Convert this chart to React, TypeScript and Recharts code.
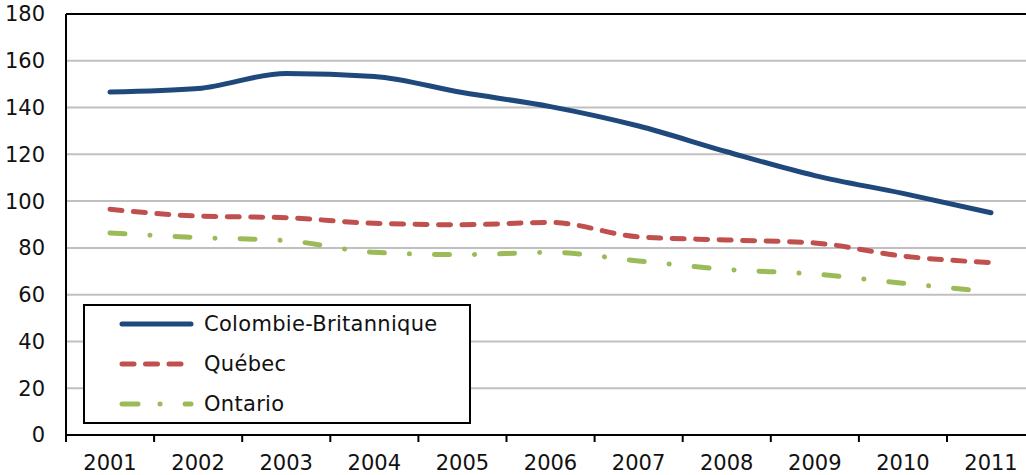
import React from "react";
import { LineChart, Line, XAxis, YAxis, CartesianGrid, ReferenceLine } from "recharts";

const years = ["2001", "2002", "2003", "2004", "2005", "2006", "2007", "2008", "2009", "2010", "2011"];
const colombieBritannique = [146.6, 148.1, 154.6, 153.3, 146.4, 140.4, 132.1, 121.1, 110.9, 103.3, 95.0];
const quebec = [96.5, 93.6, 92.9, 90.5, 89.9, 90.9, 84.7, 83.4, 82.1, 76.5, 73.7];
const ontario = [86.4, 84.4, 83.1, 78.1, 77.1, 78.1, 74.4, 70.8, 68.8, 64.9, 61.1];
const yTicks = [0, 20, 40, 60, 80, 100, 120, 140, 160, 180];

const data = years.map((y, i) => ({
  year: y,
  cb: colombieBritannique[i],
  qc: quebec[i],
  on: ontario[i],
}));

const FONT = "'DejaVu Sans', Verdana, sans-serif";
const HALF = 44;

const series = [
  { key: "cb", name: "Colombie-Britannique", color: "#1f497d", dash: undefined as string | undefined, legendDash: undefined as string | undefined },
  { key: "qc", name: "Québec", color: "#c0504d", dash: "12 11.5", legendDash: "12 11.5" },
  { key: "on", name: "Ontario", color: "#9bbb59", dash: "15 25 0.1 25", legendDash: "16 22 0.1 25" },
];

const XTick = (props: any) => {
  const { x, y, payload } = props;
  return (
    <g>
      <line x1={x - HALF} x2={x - HALF} y1={y} y2={y + 7} stroke="#000" strokeWidth={2} />
      <text x={x} y={y + 28} textAnchor="middle" dominantBaseline="central" fontFamily={FONT} fontSize={21} fill="#111">
        {payload.value}
      </text>
    </g>
  );
};

const LegendBox = () => (
  <div
    style={{
      position: "absolute",
      left: 83,
      top: 304,
      width: 388,
      height: 120,
      border: "2px solid #000",
      background: "#fff",
      boxSizing: "border-box",
    }}
  >
    <svg width={384} height={116} style={{ display: "block" }}>
      {series.map((s, i) => (
        <g key={s.key}>
          <line
            x1={37}
            x2={106}
            y1={18 + i * 40}
            y2={18 + i * 40}
            stroke={s.color}
            strokeWidth={5}
            strokeLinecap="round"
            strokeDasharray={s.legendDash}
          />
          <text
            x={119}
            y={18 + i * 40}
            dominantBaseline="central"
            fontFamily={FONT}
            fontSize={21}
            letterSpacing={0.3}
            fill="#111"
          >
            {s.name}
          </text>
        </g>
      ))}
    </svg>
  </div>
);

export default function App() {
  return (
    <div style={{ position: "fixed", left: 0, top: 0, width: 1026, height: 475, overflow: "hidden", background: "#fff" }}>
      <LineChart width={1040} height={475} data={data} margin={{ top: 14, right: 5, bottom: 0, left: 0 }}>
        <CartesianGrid vertical={false} stroke="#c0c0c0" strokeWidth={2} />
        <XAxis
          dataKey="year"
          height={40}
          padding={{ left: HALF, right: HALF }}
          axisLine={{ stroke: "#000", strokeWidth: 2 }}
          tickLine={false}
          tickSize={0}
          tickMargin={0}
          tick={<XTick />}
          interval={0}
        />
        <YAxis
          width={66}
          domain={[0, 180]}
          ticks={yTicks}
          interval={0}
          axisLine={{ stroke: "#000", strokeWidth: 2 }}
          tickLine={false}
          tickSize={0}
          tickMargin={21}
          tick={{ fontFamily: FONT, fontSize: 21, fill: "#111" }}
        />
        <ReferenceLine y={180} stroke="#000" strokeWidth={2} />
        {series.map((s) => (
          <Line
            key={s.key}
            dataKey={s.key}
            name={s.name}
            type="monotone"
            stroke={s.color}
            strokeWidth={5}
            strokeLinecap="round"
            strokeDasharray={s.dash}
            dot={false}
            activeDot={false}
            isAnimationActive={false}
          />
        ))}
      </LineChart>
      <LegendBox />
    </div>
  );
}
